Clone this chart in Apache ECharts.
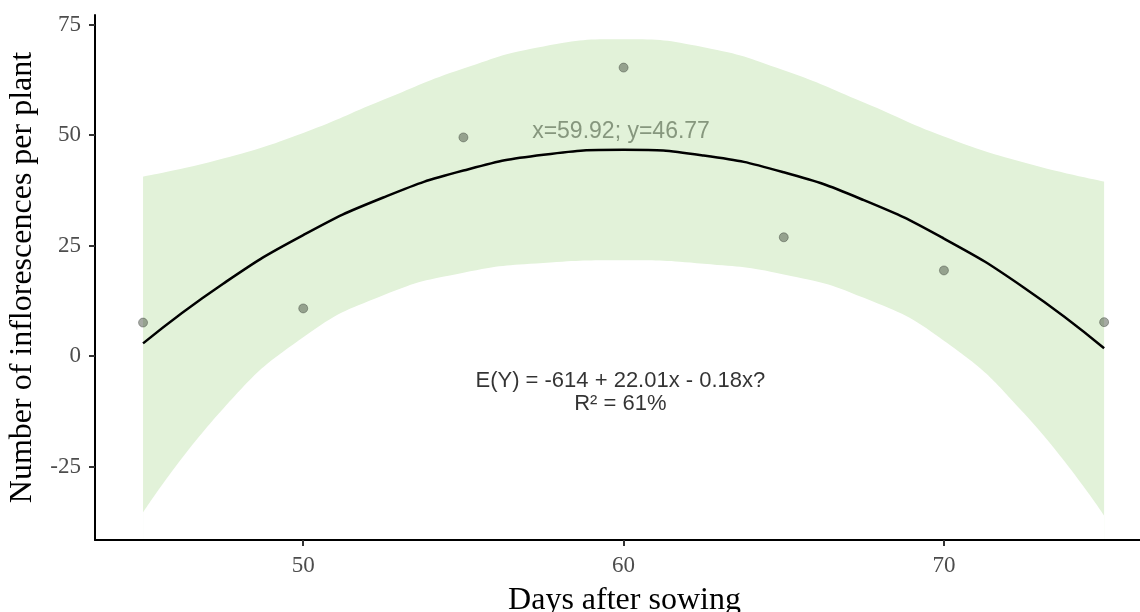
<!DOCTYPE html>
<html style="height: 100%">
<head>
    <meta charset="utf-8">
    <script src="https://cdn.jsdelivr.net/npm/echarts@6.0.0/dist/echarts.min.js"></script>
</head>
<body style="height: 100%; margin: 0; background: #fff">
    <div id="main" style="width:1140px;height:612px;"></div>
    <script type="text/javascript">
    // observed points
    var days = [45, 50, 55, 60, 65, 70, 75];
    var inflorescences = [7.6, 10.8, 49.5, 65.3, 26.9, 19.4, 7.7];

    // fitted curve and 95% band
    var fitX = [45, 47.5, 50, 52.5, 55, 57.5, 60, 62.5, 65, 67.5, 70, 72.5, 75];
    var fitY = [2.9, 16.4, 27.4, 35.9, 42.0, 45.6, 46.7, 45.4, 41.6, 35.3, 26.6, 15.5, 1.8];
    var ciUpper = [40.6, 44.7, 50.5, 58.0, 65.1, 70.1, 71.7, 69.9, 64.7, 57.4, 49.7, 43.8, 39.5];
    var ciLower = [-35.4, -11.9, 4.3, 13.8, 18.9, 21.1, 21.7, 20.9, 18.5, 13.2, 3.5, -12.9, -36.0];

    var xTicks = [50, 60, 70];
    var yTicks = [-25, 0, 25, 50, 75];

    // annotations
    var vertexLabel = { x: 59.92, y: 50.9, text: 'x=59.92; y=46.77' };
    var eqLabel = { x: 59.9, y: -8.1, text: 'E(Y) = -614 + 22.01x - 0.18x?\nR\u00b2 = 61%' };

    function pairs(xs, ys) {
        return xs.map(function(x, i) { return [x, ys[i]]; });
    }

    var serif = 'Liberation Serif';
    var sans = 'Liberation Sans';
    var bandColor = '#e2f2d9';

    var myChart = echarts.init(document.getElementById('main'));
    var option = {
        animation: false,
        grid: {
            left: 95,
            right: 0,
            top: 15,
            bottom: 72,
            containLabel: false,
            outerBoundsMode: 'none'
        },
        xAxis: {
            type: 'value',
            min: 43.5,
            max: 76.12,
            z: 10,
            name: 'Days after sowing',
            nameLocation: 'middle',
            nameGap: 45,
            nameTextStyle: { fontFamily: serif, fontSize: 32, color: '#000', padding: [0, 0, 0, 14] },
            splitLine: { show: false },
            axisLine: { show: true, onZero: false, lineStyle: { color: '#000', width: 2 } },
            axisTick: { show: true, length: 6, customValues: xTicks, lineStyle: { color: '#333', width: 2 } },
            axisLabel: { customValues: xTicks, margin: 14, fontFamily: serif, fontSize: 23, color: '#4d4d4d' }
        },
        yAxis: {
            type: 'value',
            min: -41.6,
            max: 77.2,
            z: 10,
            name: 'Number of inflorescences per plant',
            nameLocation: 'middle',
            nameGap: 56,
            nameTextStyle: { fontFamily: serif, fontSize: 32, color: '#000' },
            splitLine: { show: false },
            axisLine: { show: true, onZero: false, lineStyle: { color: '#000', width: 2 } },
            axisTick: { show: true, length: 6, customValues: yTicks, lineStyle: { color: '#333', width: 2 } },
            axisLabel: { customValues: yTicks, margin: 14, fontFamily: serif, fontSize: 23, color: '#4d4d4d' }
        },
        series: [{
            // band: fill below the upper limit ...
            name: 'upper',
            type: 'line',
            data: pairs(fitX, ciUpper),
            smooth: true,
            symbol: 'none',
            silent: true,
            lineStyle: { opacity: 0 },
            areaStyle: { color: bandColor, opacity: 1, origin: 'start' }
        }, {
            // ... then clear below the lower limit
            name: 'lower',
            type: 'line',
            data: pairs(fitX, ciLower),
            smooth: true,
            symbol: 'none',
            silent: true,
            lineStyle: { opacity: 0 },
            areaStyle: { color: '#fff', opacity: 1, origin: 'start' }
        }, {
            name: 'fit',
            type: 'line',
            data: pairs(fitX, fitY),
            smooth: true,
            symbol: 'none',
            lineStyle: { color: '#000', width: 2.5 },
            z: 3
        }, {
            name: 'points',
            type: 'scatter',
            data: pairs(days, inflorescences),
            symbolSize: 9,
            itemStyle: { color: 'rgba(50,60,45,0.55)', borderColor: 'rgba(40,45,40,0.45)', borderWidth: 1 },
            z: 4
        }, {
            name: 'labels',
            type: 'scatter',
            symbolSize: 0,
            silent: true,
            data: [
                { value: [vertexLabel.x, vertexLabel.y], label: { formatter: vertexLabel.text, color: '#6f8066', fontSize: 23 } },
                { value: [eqLabel.x, eqLabel.y], label: { formatter: eqLabel.text, color: '#000', lineHeight: 23 } }
            ],
            label: {
                show: true,
                position: 'inside',
                align: 'center',
                verticalAlign: 'middle',
                fontFamily: sans,
                fontSize: 22
            },
            z: 5
        }]
    };
    myChart.setOption(option);
    </script>
</body>
</html>
